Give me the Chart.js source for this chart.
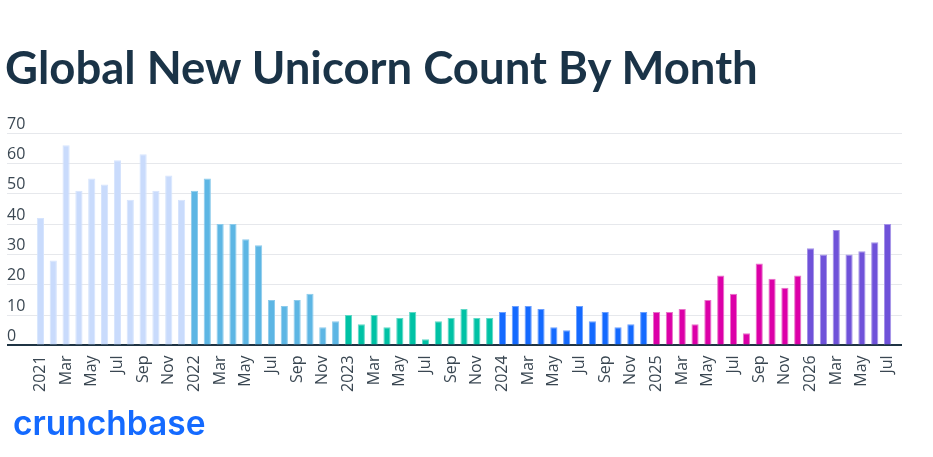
<!DOCTYPE html>
<html>
<head>
<meta charset="utf-8">
<script src="https://cdn.jsdelivr.net/npm/chart.js@4"></script>
<style>
  html, body { margin: 0; padding: 0; background: #fff; }
  #wrap { position: relative; width: 933px; height: 457px; overflow: hidden; }
  #title { position: absolute; left: 5px; top: 39px; font-family: "Lato", sans-serif; font-weight: 700;
           font-size: 45.5px; color: #1a3347; white-space: nowrap; letter-spacing: 0px; }
  #logo { position: absolute; left: 13px; top: 403px; font-family: "Inter", sans-serif; font-weight: 600;
          font-size: 33.5px; color: #146aff; letter-spacing: 0px; }
  #cv { position: absolute; left: 0; top: 0; }
</style>
</head>
<body>
<div id="wrap">
  <canvas id="cv" width="933" height="457"></canvas>
  <div id="title">Global New Unicorn Count By Month</div>
  <div id="logo">crunchbase</div>
</div>
<script>
var years = ['2021', '2022', '2023', '2024', '2025', '2026'];
var monthNames = ['Jan', 'Feb', 'Mar', 'Apr', 'May', 'Jun', 'Jul', 'Aug', 'Sep', 'Oct', 'Nov', 'Dec'];

var counts2021 = [42, 28, 66, 51, 55, 53, 61, 48, 63, 51, 56, 48];
var counts2022 = [51, 55, 40, 40, 35, 33, 15, 13, 15, 17, 6, 8];
var counts2023 = [10, 7, 10, 6, 9, 11, 2, 8, 9, 12, 9, 9];
var counts2024 = [11, 13, 13, 12, 6, 5, 13, 8, 11, 6, 7, 11];
var counts2025 = [11, 11, 12, 7, 15, 23, 17, 4, 27, 22, 19, 23];
var counts2026 = [32, 30, 38, 30, 31, 34, 40];

var yearFill = ['#c9dbfc', '#5db6e4', '#00c2a5', '#146aff', '#dc00a8', '#6f52d9'];
var yearEdge = ['#d6e4fd', '#8ccbec', '#5fd8c6', '#6b9fff', '#e872c8', '#a593e8'];

var yTicks = [0, 10, 20, 30, 40, 50, 60, 70];

var allYears = [counts2021, counts2022, counts2023, counts2024, counts2025, counts2026];
var labels = [];
var values = [];
var fills = [];
var edges = [];
for (var y in allYears) {
  for (var m in allYears[y]) {
    labels.push(m == 0 ? years[y] : monthNames[m]);
    values.push(allYears[y][m]);
    fills.push(yearFill[y]);
    edges.push(yearEdge[y]);
  }
}

var tickFont = { family: 'Open Sans', size: 16 };
var gridColor = function(ctx) {
  return ctx.tick && ctx.tick.value === 0 ? '#1f3444' : '#e6e8ec';
};
var gridWidth = function(ctx) {
  return ctx.tick && ctx.tick.value === 0 ? 2 : 1;
};

var ctx = document.getElementById('cv');
var barGraph = new Chart(ctx, {
  type: 'bar',
  data: {
    labels: labels,
    datasets: [{
      label: 'New unicorns',
      data: values,
      backgroundColor: fills,
      borderColor: edges,
      borderWidth: { top: 1, left: 1, right: 1, bottom: 0 },
      borderSkipped: 'bottom',
      barPercentage: 0.56,
      categoryPercentage: 1.0
    }]
  },
  options: {
    responsive: false,
    animation: false,
    layout: { padding: { top: 133, left: 7, right: 31, bottom: 63 } },
    plugins: { legend: { display: false }, tooltip: { enabled: false } },
    scales: {
      x: {
        grid: { display: false },
        border: { display: false },
        ticks: {
          autoSkip: false,
          maxRotation: 90,
          minRotation: 90,
          padding: 2,
          color: '#3a4752',
          font: tickFont,
          callback: function(val, i) { return i % 2 === 0 ? labels[i] : ''; }
        }
      },
      y: {
        min: 0,
        max: 70,
        afterBuildTicks: function(s) { s.ticks = yTicks.map(function(v) { return { value: v }; }); },
        afterFit: function(s) { s.width = 27; },
        grid: { color: gridColor, lineWidth: gridWidth, tickLength: 27 },
        border: { display: false },
        ticks: {
          crossAlign: 'far',
          padding: 0,
          labelOffset: -9,
          color: '#3a4752',
          font: tickFont
        }
      },
      yRight: {
        position: 'right',
        min: 0,
        max: 70,
        afterBuildTicks: function(s) { s.ticks = yTicks.map(function(v) { return { value: v }; }); },
        grid: { drawOnChartArea: false, color: gridColor, lineWidth: gridWidth, tickLength: 8 },
        border: { display: false },
        ticks: { display: false }
      }
    }
  }
});
</script>
</body>
</html>
